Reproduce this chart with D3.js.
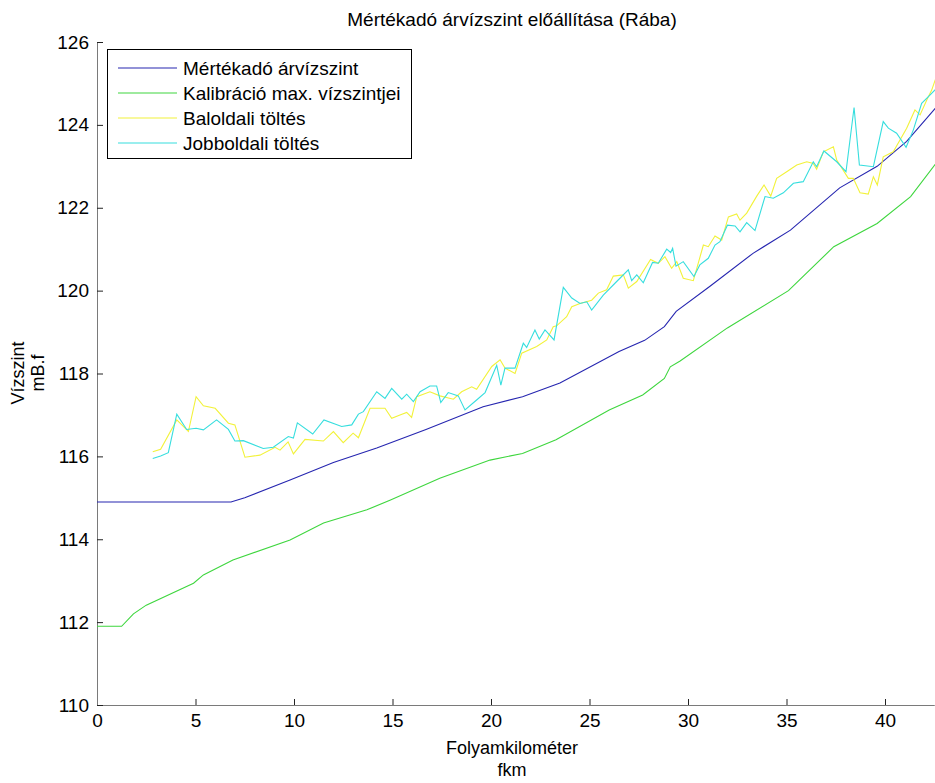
<!DOCTYPE html>
<html>
<head>
<meta charset="utf-8">
<script src="https://cdn.jsdelivr.net/npm/d3@7"></script>
<style>
  body { margin: 0; background: #fff; }
  text { font-family: "Liberation Sans", Arial, sans-serif; fill: #000; }
</style>
</head>
<body>
<div id="chart"></div>
<script>
// Data: [fkm, water level]
var mertekado = [
  [0, 114.9], [6.8, 114.9], [7.5, 115.0], [9.8, 115.43], [12, 115.85], [14.2, 116.2],
  [16.7, 116.65], [19.6, 117.2], [21.6, 117.44], [23.5, 117.77], [26.5, 118.53],
  [27.8, 118.8], [28.8, 119.13], [29.4, 119.5], [31.1, 120.1], [33.3, 120.9],
  [35.2, 121.46], [37.7, 122.48], [39.6, 123.0], [41.1, 123.6], [42.55, 124.4]
];

var kalibracio = [
  [0, 111.9], [1.25, 111.9], [1.85, 112.2], [2.5, 112.41], [4.9, 112.94], [5.4, 113.14],
  [6.9, 113.5], [9.8, 113.98], [11.5, 114.39], [13.7, 114.71], [14.9, 114.95],
  [17.4, 115.47], [19.95, 115.91], [21.6, 116.07], [23.3, 116.4], [26.0, 117.12],
  [27.7, 117.48], [28.8, 117.88], [29.1, 118.16], [29.6, 118.3], [32.0, 119.1],
  [35.1, 120.0], [37.4, 121.06], [39.6, 121.62], [41.3, 122.27], [42.55, 123.05]
];

var baloldali = [
  [2.83, 116.11], [3.23, 116.17], [4.05, 116.88], [4.64, 116.6], [5.03, 117.44], [5.4, 117.22],
  [6.0, 117.16], [6.67, 116.8], [7.0, 116.76], [7.51, 115.98], [8.27, 116.03], [9.04, 116.22],
  [9.29, 116.15], [9.7, 116.35], [9.97, 116.06], [10.56, 116.41], [11.49, 116.37], [12.0, 116.6],
  [12.5, 116.33], [13.0, 116.56], [13.27, 116.45], [13.86, 117.16], [14.62, 117.16], [14.96, 116.92],
  [15.38, 117.0], [15.72, 117.06], [15.97, 116.94], [16.23, 117.44], [16.9, 117.56], [17.41, 117.46],
  [18.09, 117.38], [18.51, 117.56], [19.02, 117.68], [19.27, 117.62], [20.04, 118.17], [20.46, 118.33],
  [20.71, 118.13], [21.22, 118.0], [21.56, 118.49], [22.32, 118.65], [22.83, 118.81], [23.16, 119.13],
  [23.33, 119.15], [23.84, 119.37], [24.1, 119.61], [24.52, 119.69], [25.11, 119.77], [25.45, 119.94],
  [25.87, 120.02], [26.21, 120.35], [26.72, 120.38], [26.97, 120.06], [27.4, 120.22], [28.1, 120.75],
  [28.49, 120.66], [28.83, 120.82], [29.17, 120.54], [29.43, 120.7], [29.76, 120.3], [30.27, 120.24],
  [30.78, 121.1], [31.03, 121.06], [31.37, 121.32], [31.71, 121.22], [32.05, 121.78], [32.47, 121.85],
  [32.64, 121.7], [32.98, 121.87], [33.49, 122.28], [33.86, 122.55], [34.2, 122.28], [34.5, 122.71],
  [35.01, 122.87], [35.52, 123.03], [36.03, 123.11], [36.36, 123.07], [36.53, 122.93], [36.87, 123.35],
  [37.38, 123.47], [37.55, 123.15], [38.14, 122.71], [38.39, 122.71], [38.73, 122.36], [39.15, 122.33],
  [39.41, 122.75], [39.61, 122.55], [39.91, 123.23], [40.42, 123.35], [41.1, 123.92], [41.52, 124.36],
  [41.78, 124.24], [42.12, 124.6], [42.37, 124.84], [42.6, 125.15]
];

var jobboldali = [
  [2.83, 115.95], [3.23, 116.01], [3.62, 116.09], [4.05, 117.02], [4.55, 116.65], [5.03, 116.68],
  [5.4, 116.64], [6.07, 116.88], [6.67, 116.65], [7.0, 116.37], [7.43, 116.38], [8.44, 116.19],
  [8.95, 116.22], [9.71, 116.48], [9.97, 116.44], [10.17, 116.81], [10.95, 116.54], [11.52, 116.88],
  [12.42, 116.72], [12.93, 116.76], [13.27, 117.02], [13.52, 117.08], [14.2, 117.56], [14.62, 117.4],
  [14.96, 117.64], [15.47, 117.38], [15.72, 117.5], [16.06, 117.32], [16.4, 117.56], [16.9, 117.7],
  [17.24, 117.7], [17.45, 117.3], [17.83, 117.54], [18.34, 117.46], [18.68, 117.12], [19.27, 117.36],
  [19.7, 117.54], [20.29, 118.2], [20.5, 117.72], [20.71, 118.13], [21.22, 118.13], [21.64, 118.73],
  [21.81, 118.63], [22.23, 119.05], [22.45, 118.83], [22.74, 119.05], [23.2, 118.81], [23.67, 120.08],
  [24.1, 119.82], [24.52, 119.69], [24.86, 119.73], [25.11, 119.53], [25.7, 119.89], [26.38, 120.22],
  [26.97, 120.5], [27.14, 120.24], [27.4, 120.38], [27.73, 120.19], [28.2, 120.68], [28.49, 120.66],
  [28.92, 121.0], [29.12, 120.92], [29.22, 121.02], [29.39, 120.59], [29.76, 120.7], [30.3, 120.34],
  [30.6, 120.62], [31.03, 120.78], [31.37, 121.1], [31.62, 121.18], [32.0, 121.58], [32.39, 121.56],
  [32.64, 121.42], [32.98, 121.64], [33.4, 121.45], [33.91, 122.27], [34.33, 122.23], [34.84, 122.36],
  [35.35, 122.59], [35.85, 122.63], [36.36, 123.11], [36.53, 122.99], [36.9, 123.37], [37.55, 123.11],
  [38.02, 122.87], [38.43, 124.42], [38.7, 123.03], [39.41, 122.99], [39.91, 124.08], [40.17, 123.92],
  [40.59, 123.8], [41.07, 123.46], [41.44, 123.88], [41.86, 124.52], [42.28, 124.72], [42.55, 124.85]
];

var seriesNames = ["Mértékadó árvízszint", "Kalibráció max. vízszintjei", "Baloldali töltés", "Jobboldali töltés"];
var seriesColors = ["#2626b0", "#3ed63e", "#f2f23a", "#36dede"];
var xTicks = [0, 5, 10, 15, 20, 25, 30, 35, 40];
var yTicks = [110, 112, 114, 116, 118, 120, 122, 124, 126];

var svgWidth = 935;
var svgHeight = 783;

var margin = { top: 42, right: 0, bottom: 78, left: 97 };
var width = 42.5 * (788 / 40);
var height = svgHeight - margin.top - margin.bottom;

var svg = d3.select("#chart")
  .append("svg")
  .attr("width", svgWidth)
  .attr("height", svgHeight);

var chartGroup = svg.append("g")
  .attr("transform", `translate(${margin.left}, ${margin.top})`);

// scales
var xScale = d3.scaleLinear().domain([0, 42.5]).range([0, width]);
var yScale = d3.scaleLinear().domain([110, 126]).range([height, 0]);

// axes, MATLAB style ticks pointing inward
var bottomAxis = d3.axisBottom(xScale).tickValues(xTicks).tickSize(-6).tickSizeOuter(0).tickPadding(9);
var leftAxis = d3.axisLeft(yScale).tickValues(yTicks).tickSize(-6).tickSizeOuter(0).tickPadding(8);

var xAxisG = chartGroup.append("g")
  .attr("transform", `translate(0, ${height})`)
  .call(bottomAxis);

var yAxisG = chartGroup.append("g")
  .call(leftAxis);

[xAxisG, yAxisG].forEach(function(g) {
  g.select(".domain").attr("stroke", "#7a7a7a");
  g.selectAll(".tick line").attr("stroke", "#222");
  g.selectAll(".tick text")
    .attr("font-family", "Liberation Sans, Arial, sans-serif")
    .attr("font-size", "19px")
    .attr("fill", "#000");
});

// lines
var line = d3.line()
  .x(d => xScale(d[0]))
  .y(d => yScale(d[1]));

var allSeries = [mertekado, kalibracio, baloldali, jobboldali];

chartGroup.selectAll(".series")
  .data(allSeries)
  .enter()
  .append("path")
  .attr("class", "series")
  .attr("d", line)
  .attr("fill", "none")
  .attr("stroke", (d, i) => seriesColors[i])
  .attr("stroke-width", 1.1);

// legend
var legend = svg.append("g");

legend.append("rect")
  .attr("x", 107.5)
  .attr("y", 49.5)
  .attr("width", 304)
  .attr("height", 109)
  .attr("fill", "#fff")
  .attr("stroke", "#000");

var legendItems = legend.selectAll(".item")
  .data(seriesNames)
  .enter()
  .append("g")
  .attr("class", "item")
  .attr("transform", (d, i) => `translate(0, ${68 + i * 25})`);

legendItems.append("line")
  .attr("x1", 118)
  .attr("x2", 177)
  .attr("y1", 0)
  .attr("y2", 0)
  .attr("stroke", (d, i) => seriesColors[i])
  .attr("stroke-width", 1.1);

legendItems.append("text")
  .attr("x", 183)
  .attr("y", 7)
  .attr("font-size", "19px")
  .text(d => d);

// title and axis labels
svg.append("text")
  .attr("x", 512)
  .attr("y", 26)
  .attr("text-anchor", "middle")
  .attr("font-size", "19px")
  .text("Mértékadó árvízszint előállítása (Rába)");

svg.append("text")
  .attr("x", 512)
  .attr("y", 754)
  .attr("text-anchor", "middle")
  .attr("font-size", "18px")
  .text("Folyamkilométer");

svg.append("text")
  .attr("x", 512)
  .attr("y", 776)
  .attr("text-anchor", "middle")
  .attr("font-size", "18px")
  .text("fkm");

svg.append("text")
  .attr("transform", "translate(24, 373) rotate(-90)")
  .attr("text-anchor", "middle")
  .attr("font-size", "18px")
  .text("Vízszint");

svg.append("text")
  .attr("transform", "translate(44, 373) rotate(-90)")
  .attr("text-anchor", "middle")
  .attr("font-size", "18px")
  .text("mB.f");
</script>
</body>
</html>
